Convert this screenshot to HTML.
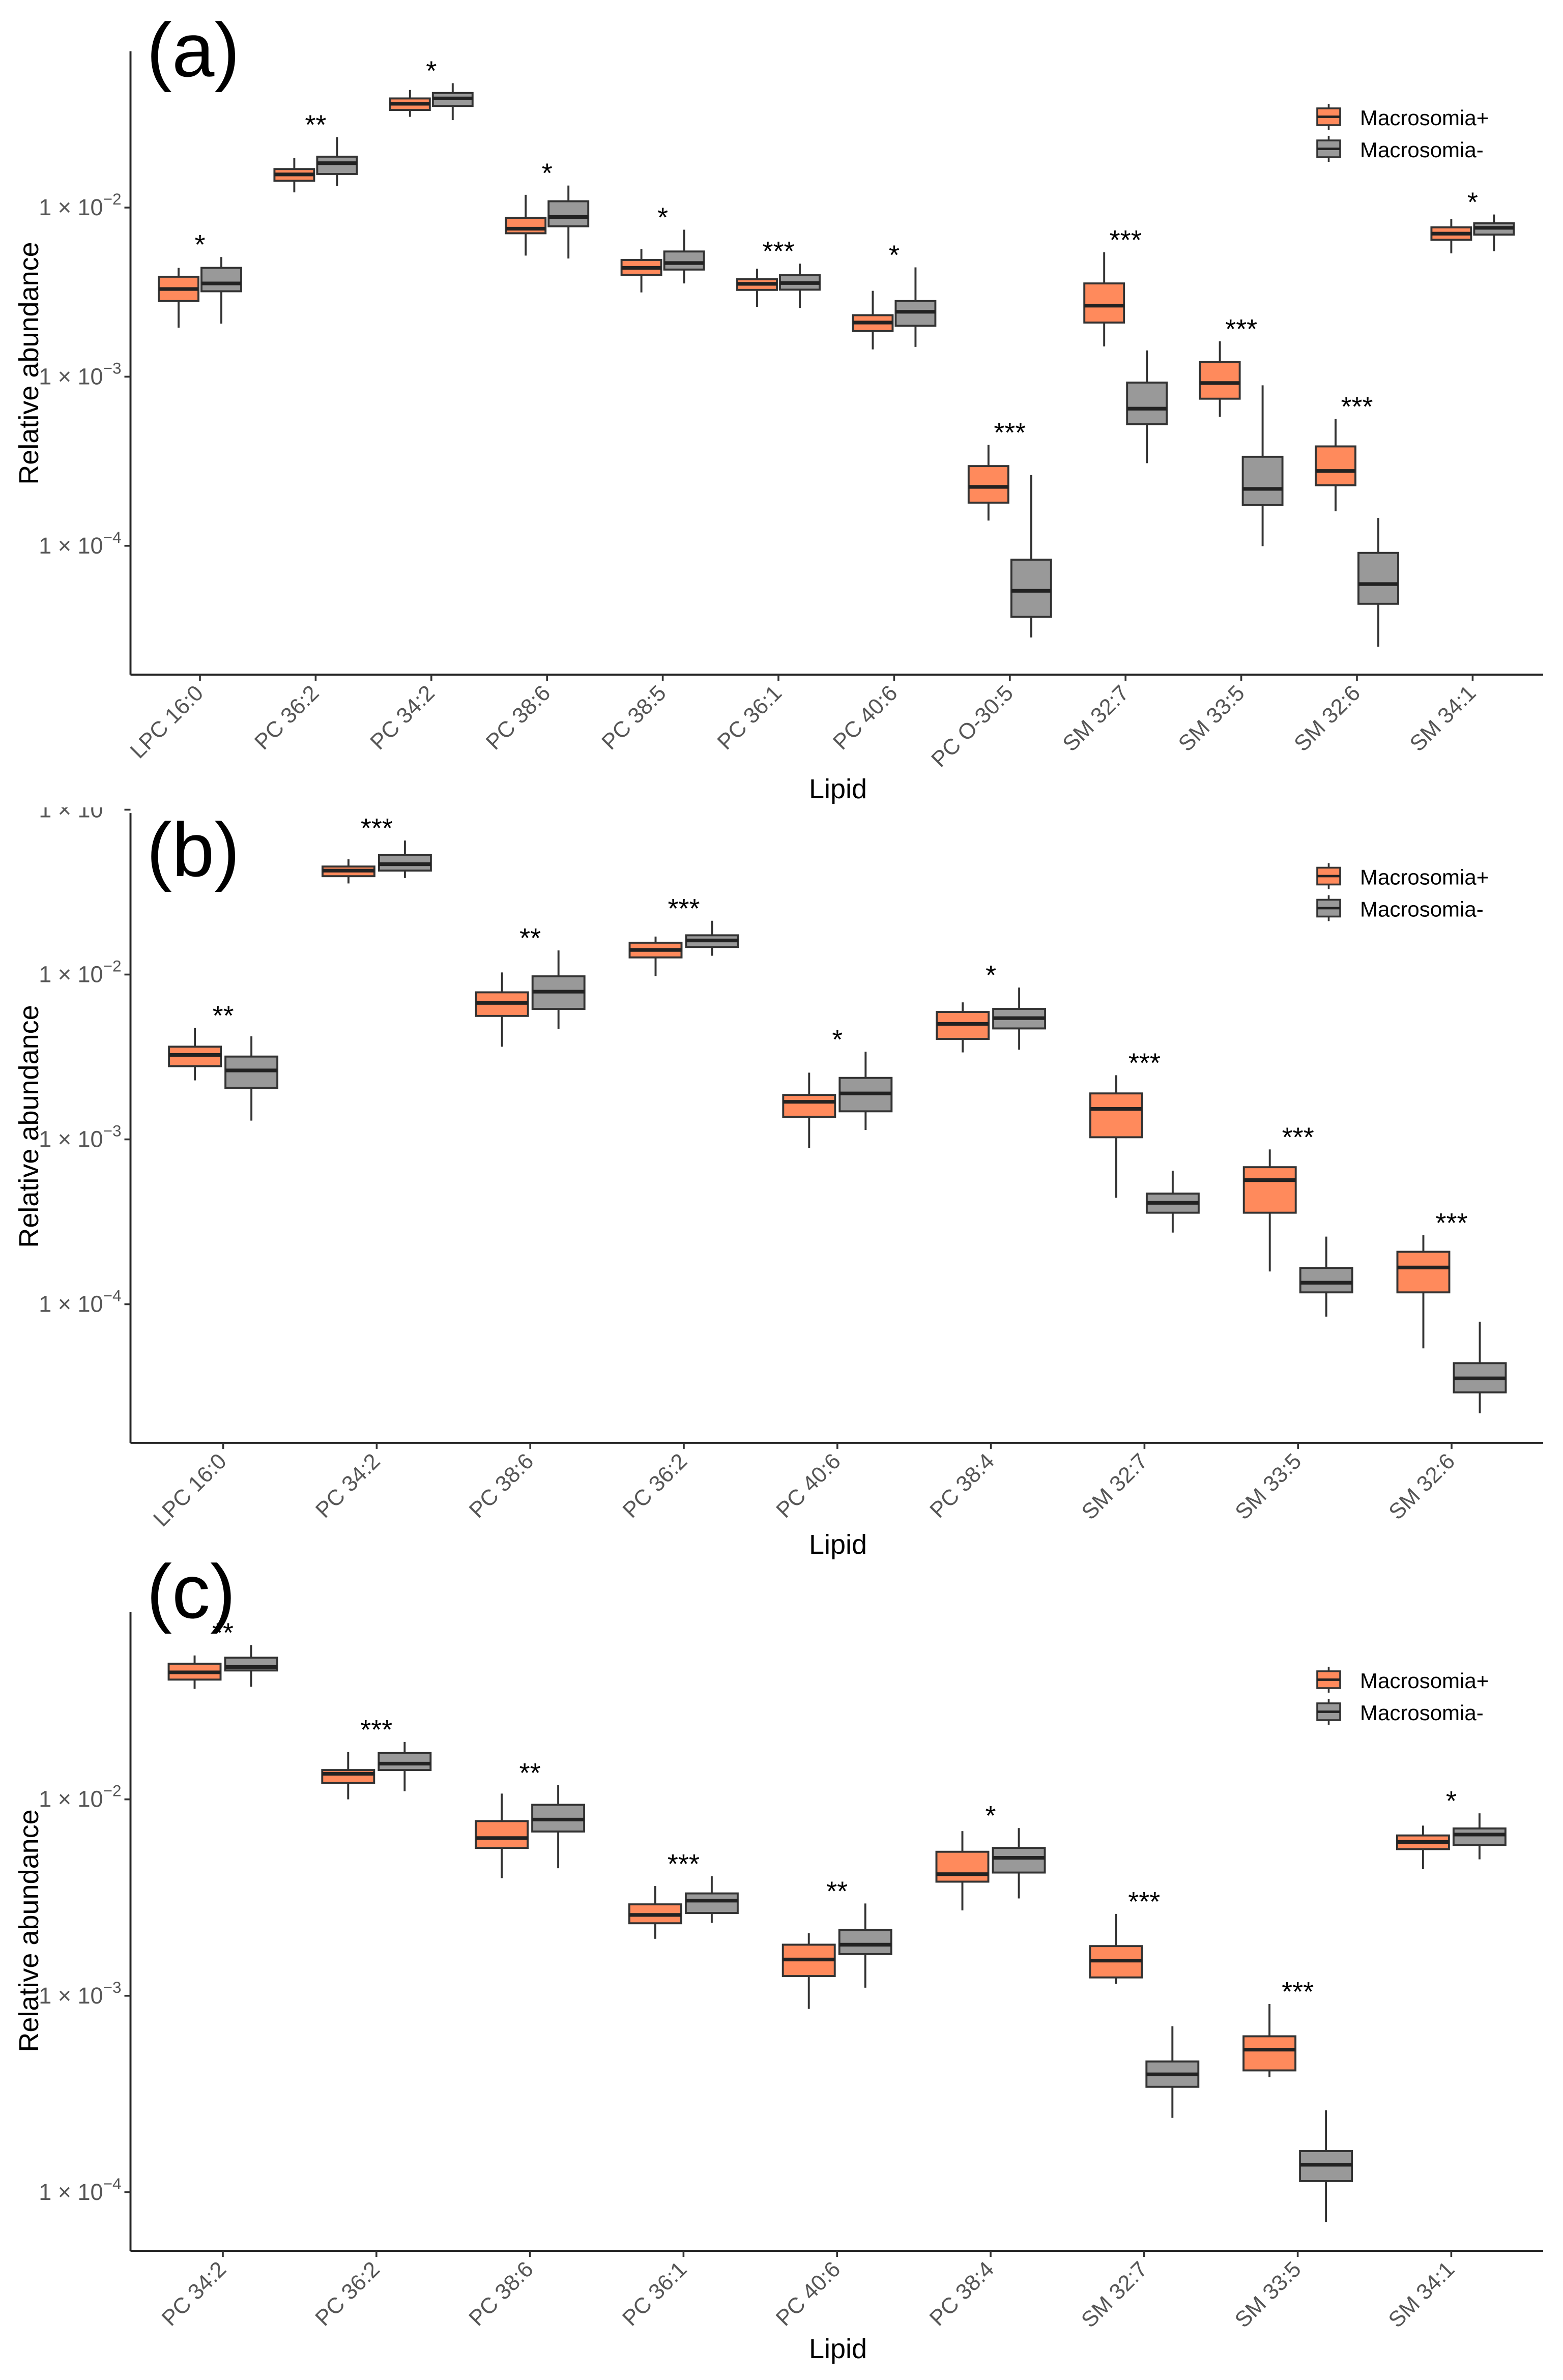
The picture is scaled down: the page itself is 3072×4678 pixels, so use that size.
<!DOCTYPE html>
<html><head><meta charset="utf-8">
<style>
html,body{margin:0;padding:0;background:#fff;}
svg{display:block;font-family:"Liberation Sans",Arial,sans-serif;}
</style></head>
<body>
<svg id="fig" width="3072" height="4678" viewBox="0 0 1024 1559.333" xmlns="http://www.w3.org/2000/svg">
<rect x="0" y="0" width="1024" height="1559.333" fill="#fff"/>
</svg>
<script>
// ---------- Panel (a) data ----------
const categoriesA = ["LPC 16:0","PC 36:2","PC 34:2","PC 38:6","PC 38:5","PC 36:1","PC 40:6","PC O-30:5","SM 32:7","SM 33:5","SM 32:6","SM 34:1"];
// [lower whisker, q1, median, q3, upper whisker]
const plusA = [
  [1.95e-3,2.8e-3,3.3e-3,3.9e-3,4.4e-3],
  [0.0123,0.0144,0.0157,0.0169,0.0196],
  [0.0344,0.0378,0.0411,0.0442,0.0496],
  [5.2e-3,7.05e-3,7.5e-3,8.7e-3,0.0119],
  [3.15e-3,4.0e-3,4.4e-3,4.9e-3,5.7e-3],
  [2.59e-3,3.26e-3,3.54e-3,3.77e-3,4.35e-3],
  [1.45e-3,1.86e-3,2.09e-3,2.31e-3,3.22e-3],
  [1.41e-4,1.8e-4,2.23e-4,2.96e-4,3.95e-4],
  [1.51e-3,2.09e-3,2.63e-3,3.56e-3,5.44e-3],
  [5.79e-4,7.41e-4,9.17e-4,1.22e-3,1.62e-3],
  [1.6e-4,2.28e-4,2.77e-4,3.87e-4,5.62e-4],
  [5.36e-3,6.45e-3,7.01e-3,7.64e-3,8.55e-3]
];
const minusA = [
  [2.06e-3,3.2e-3,3.56e-3,4.4e-3,5.1e-3],
  [0.0134,0.0158,0.0183,0.0200,0.0261],
  [0.0329,0.0399,0.0442,0.0476,0.0544],
  [5.0e-3,7.75e-3,8.8e-3,0.0109,0.0135],
  [3.56e-3,4.3e-3,4.7e-3,5.5e-3,7.4e-3],
  [2.55e-3,3.27e-3,3.58e-3,3.98e-3,4.66e-3],
  [1.5e-3,2.0e-3,2.42e-3,2.8e-3,4.43e-3],
  [2.87e-5,3.8e-5,5.42e-5,8.28e-5,2.62e-4],
  [3.08e-4,5.24e-4,6.47e-4,9.23e-4,1.43e-3],
  [9.95e-5,1.74e-4,2.17e-4,3.36e-4,8.89e-4],
  [2.53e-5,4.54e-5,5.94e-5,9.08e-5,1.46e-4],
  [5.52e-3,6.92e-3,7.59e-3,8.07e-3,9.1e-3]
];
const starsA = ["*","**","*","*","*","***","*","***","***","***","***","*"];
const ticksA = [-2,-3,-4];

// ---------- Panel (b) data ----------
const categoriesB = ["LPC 16:0","PC 34:2","PC 38:6","PC 36:2","PC 40:6","PC 38:4","SM 32:7","SM 33:5","SM 32:6"];
const plusB = [
  [2.28e-3,2.78e-3,3.25e-3,3.65e-3,4.74e-3],
  [0.0357,0.0395,0.0427,0.0452,0.050],
  [3.65e-3,5.61e-3,6.73e-3,7.8e-3,0.0103],
  [9.8e-3,0.0127,0.0141,0.0156,0.017],
  [8.87e-4,1.37e-3,1.69e-3,1.86e-3,2.54e-3],
  [3.37e-3,4.07e-3,5.02e-3,5.93e-3,6.78e-3],
  [4.43e-4,1.03e-3,1.53e-3,1.9e-3,2.45e-3],
  [1.58e-4,3.59e-4,5.66e-4,6.78e-4,8.69e-4],
  [5.4e-5,1.18e-4,1.67e-4,2.08e-4,2.62e-4]
];
const minusB = [
  [1.30e-3,2.05e-3,2.62e-3,3.18e-3,4.22e-3],
  [0.0385,0.0427,0.0467,0.053,0.065],
  [4.68e-3,6.19e-3,7.87e-3,9.75e-3,0.014],
  [0.013,0.0147,0.0161,0.0173,0.0212],
  [1.14e-3,1.48e-3,1.9e-3,2.36e-3,3.4e-3],
  [3.5e-3,4.71e-3,5.44e-3,6.19e-3,8.34e-3],
  [2.72e-4,3.59e-4,4.12e-4,4.69e-4,6.46e-4],
  [8.41e-5,1.18e-4,1.35e-4,1.66e-4,2.57e-4],
  [2.18e-5,2.92e-5,3.55e-5,4.39e-5,7.83e-5]
];
const starsB = ["**","***","**","***","*","*","***","***","***"];
const ticksB = [-1,-2,-3,-4];

// ---------- Panel (c) data ----------
const categoriesC = ["PC 34:2","PC 36:2","PC 38:6","PC 36:1","PC 40:6","PC 38:4","SM 32:7","SM 33:5","SM 34:1"];
const plusC = [
  [0.0365,0.0407,0.0443,0.049,0.054],
  [0.010,0.0121,0.0135,0.0141,0.0174],
  [3.97e-3,5.66e-3,6.35e-3,7.75e-3,0.0107],
  [1.95e-3,2.34e-3,2.58e-3,2.92e-3,3.62e-3],
  [8.57e-4,1.26e-3,1.53e-3,1.82e-3,2.08e-3],
  [2.72e-3,3.81e-3,4.16e-3,5.41e-3,6.89e-3],
  [1.15e-3,1.24e-3,1.51e-3,1.79e-3,2.61e-3],
  [3.85e-4,4.17e-4,5.32e-4,6.22e-4,9.08e-4],
  [4.41e-3,5.58e-3,6.07e-3,6.55e-3,7.35e-3]
];
const minusC = [
  [0.0374,0.0453,0.0472,0.0526,0.061],
  [0.011,0.0141,0.0152,0.0172,0.0196],
  [4.46e-3,6.86e-3,7.89e-3,9.38e-3,0.0118],
  [2.35e-3,2.64e-3,3.05e-3,3.32e-3,4.06e-3],
  [1.1e-3,1.63e-3,1.82e-3,2.16e-3,2.95e-3],
  [3.13e-3,4.24e-3,5.04e-3,5.66e-3,7.14e-3],
  [2.39e-4,3.44e-4,3.98e-4,4.63e-4,7.0e-4],
  [7.05e-5,1.14e-4,1.38e-4,1.62e-4,2.61e-4],
  [4.95e-3,5.86e-3,6.62e-3,7.11e-3,8.49e-3]
];
const starsC = ["**","***","**","***","**","*","***","***","*"];
const ticksC = [-2,-3,-4];

const svg = document.getElementById('fig');
const NS = 'http://www.w3.org/2000/svg';
function mk(tag, attrs, parent){
  const e = document.createElementNS(NS, tag);
  for (const k in attrs) e.setAttribute(k, attrs[k]);
  (parent||svg).appendChild(e);
  return e;
}
const ORANGE = '#FF8A5C', GREY = '#999999', STROKE = '#333333';

function drawPanel(letter, cats, plus, minus, stars, ticks, L){
  const g = mk('g', {});
  
  
  const yOf = v => L.e2 - (Math.log10(v) + 2) * L.dec;
  const xOf = i => L.x0 + i * L.step;

  const yAxis = mk('line', {x1:L.ax, y1:L.top, x2:L.ax, y2:L.bot, stroke:'#222', 'stroke-width':1.3}, g);
  
  
  const xAxis = mk('line', {x1:L.ax, y1:L.bot, x2:1011, y2:L.bot, stroke:'#222', 'stroke-width':1.3}, g);
  
  

  ticks.forEach(t => {
    const y = L.e2 - (t + 2) * L.dec;
    mk('line', {x1:L.ax-4, y1:y, x2:L.ax, y2:y, stroke:'#333', 'stroke-width':1.2}, g);
    const tx = mk('text', {x:L.ax-6, y:y+5, 'text-anchor':'end', 'font-size':15, fill:'#555'}, g);
    
    
    tx.textContent = '1 × 10';
    const sp = mk('tspan', {dy:-7, 'font-size':10.5}, tx);
    sp.textContent = '−' + Math.abs(t);
  });

  cats.forEach((c, i) => {
    const cx = xOf(i);
    [[plus[i], ORANGE, -1, 'plus'], [minus[i], GREY, 1, 'minus']].forEach(([d, col, side, nm]) => {
      const bx = side < 0 ? cx - L.gap - L.bw : cx + L.gap;
      const mx = bx + L.bw / 2;
      const bg = mk('g', {}, g);
      
      
      mk('line', {x1:mx, y1:yOf(d[4]), x2:mx, y2:yOf(d[3]), stroke:STROKE, 'stroke-width':1.3}, bg);
      mk('line', {x1:mx, y1:yOf(d[1]), x2:mx, y2:yOf(d[0]), stroke:STROKE, 'stroke-width':1.3}, bg);
      mk('rect', {x:bx, y:yOf(d[3]), width:L.bw, height:Math.max(0.5, yOf(d[1]) - yOf(d[3])), fill:col, stroke:STROKE, 'stroke-width':1.3}, bg);
      mk('line', {x1:bx, y1:yOf(d[2]), x2:bx+L.bw, y2:yOf(d[2]), stroke:'#222', 'stroke-width':2.4}, bg);
    });
    const topY = Math.min(yOf(plus[i][4]), yOf(minus[i][4]));
    const st = mk('text', {x:cx, y:topY - 2, 'text-anchor':'middle', 'font-size':18, fill:'#000'}, g);
    
    
    st.textContent = stars[i];
    mk('line', {x1:cx, y1:L.bot, x2:cx, y2:L.bot+4, stroke:'#333', 'stroke-width':1.2}, g);
    const lx = cx + 3, ly = L.bot + 13;
    const xl = mk('text', {x:lx, y:ly, 'text-anchor':'end', 'font-size':14.5, fill:'#555', transform:'rotate(-45 '+lx+' '+ly+')'}, g);
    
    
    xl.textContent = c;
  });

  const yt = mk('text', {x:0, y:0, 'text-anchor':'middle', 'font-size':18, fill:'#000', transform:'translate(25 '+L.ytc+') rotate(-90)'}, g);
  
  
  yt.textContent = 'Relative abundance';
  const xt = mk('text', {x:549, y:L.xtb, 'text-anchor':'middle', 'font-size':18, fill:'#000'}, g);
  
  
  xt.textContent = 'Lipid';

  const pl = mk('text', {x:96, y:L.lb, 'font-size':50, fill:'#000'}, g);
  
  
  pl.textContent = '(' + letter + ')';

  const lg = mk('g', {}, g);
  
  
  [[ORANGE,'Macrosomia+',L.leg],[GREY,'Macrosomia-',L.leg+21]].forEach(([col,txt,ky]) => {
    const en = mk('g', {}, lg);
    
    
    mk('line', {x1:870.5, y1:ky-3, x2:870.5, y2:ky+14, stroke:STROKE, 'stroke-width':1.2}, en);
    mk('rect', {x:863, y:ky, width:15, height:11, fill:col, stroke:STROKE, 'stroke-width':1.2}, en);
    mk('line', {x1:863, y1:ky+5.5, x2:878, y2:ky+5.5, stroke:'#222', 'stroke-width':1.6}, en);
    const t = mk('text', {x:891, y:ky+11, 'font-size':14, fill:'#000'}, en);
    t.textContent = txt;
  });
}

drawPanel('a', categoriesA, plusA, minusA, starsA, ticksA,
  {ax:85.5, top:33.6, bot:442, e2:136, dec:110.8, x0:131, step:75.8, bw:26, gap:1, ytc:238, xtb:523, lb:50, leg:71});
drawPanel('b', categoriesB, plusB, minusB, starsB, ticksB,
  {ax:85.5, top:532.7, bot:945.3, e2:638.5, dec:108, x0:146.2, step:100.6, bw:34, gap:1.5, ytc:738, xtb:1018, lb:574, leg:568.5});
const mask = mk('rect', {x:20, y:517, width:64, height:12, fill:'#fff'});


drawPanel('c', categoriesC, plusC, minusC, starsC, ticksC,
  {ax:85.5, top:1056, bot:1474.7, e2:1178.9, dec:128.7, x0:146, step:100.6, bw:34, gap:1.5, ytc:1265, xtb:1545, lb:1060, leg:1095});
</script>
</body></html>
